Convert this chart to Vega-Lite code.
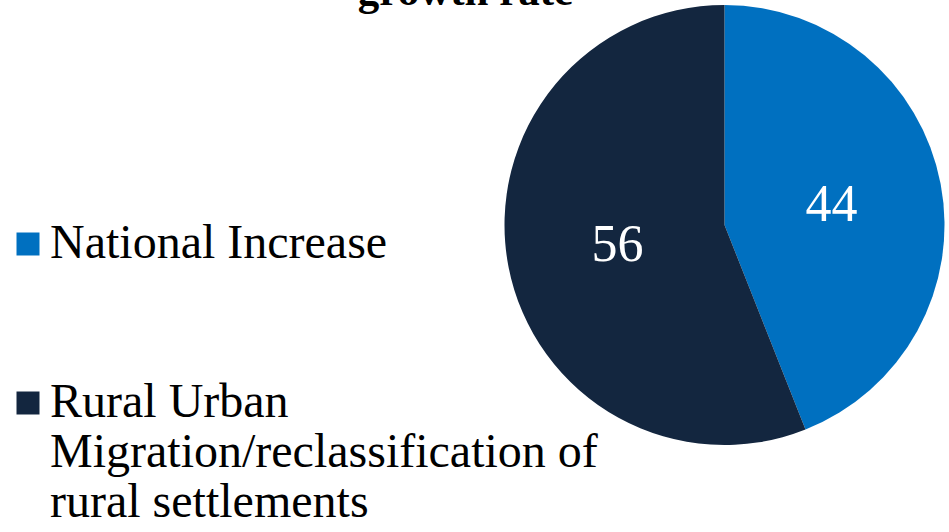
{
  "$schema": "https://vega.github.io/schema/vega-lite/v6.json",
  "autosize": "none",
  "width": 449,
  "height": 440,
  "padding": {"left": 500, "top": 5, "right": 0, "bottom": 87},
  "background": "white",
  "title": {
    "text": "growth rate",
    "font": "'Liberation Serif', 'DejaVu Serif'",
    "fontSize": 43,
    "fontWeight": "bold",
    "color": "black",
    "anchor": "middle",
    "offset": -9,
    "dx": -259
  },
  "data": {
    "values": [
      {"category": "National Increase", "value": 44, "order": 1},
      {"category": "Rural Urban Migration/reclassification of rural settlements", "value": 56, "order": 2}
    ]
  },
  "encoding": {
    "theta": {"field": "value", "type": "quantitative", "stack": true},
    "order": {"field": "order", "type": "quantitative"},
    "color": {
      "field": "category",
      "type": "nominal",
      "sort": ["National Increase", "Rural Urban Migration/reclassification of rural settlements"],
      "scale": {"domain": ["National Increase", "Rural Urban Migration/reclassification of rural settlements"], "range": ["#0070C0", "#13263F"]},
      "legend": {
        "title": null,
        "orient": "none",
        "legendX": -496,
        "legendY": 215,
        "symbolType": "square",
        "symbolSize": 529,
        "symbolStrokeWidth": 0,
        "labelFont": "'Liberation Serif', 'DejaVu Serif'",
        "labelFontWeight": 400,
        "labelFontSize": 48,
        "labelColor": "black",
        "labelLimit": 0,
        "labelOffset": -2,
        "labelBaseline": "middle",
        "labelLineHeight": 53,
        "rowPadding": 111,
        "labelExpr": "datum.label == 'National Increase' ? 'National Increase' : ['Rural Urban', 'Migration/reclassification of', 'rural settlements']"
      }
    }
  },
  "layer": [
    {"mark": {"type": "arc", "outerRadius": 220, "stroke": null}},
    {
      "mark": {"type": "text", "radius": 109, "font": "'Liberation Serif', 'DejaVu Serif'", "fontWeight": 400, "fontSize": 52},
      "encoding": {"text": {"field": "value", "type": "quantitative"}, "color": {"value": "white"}}
    }
  ],
  "config": {"view": {"stroke": null}}
}
